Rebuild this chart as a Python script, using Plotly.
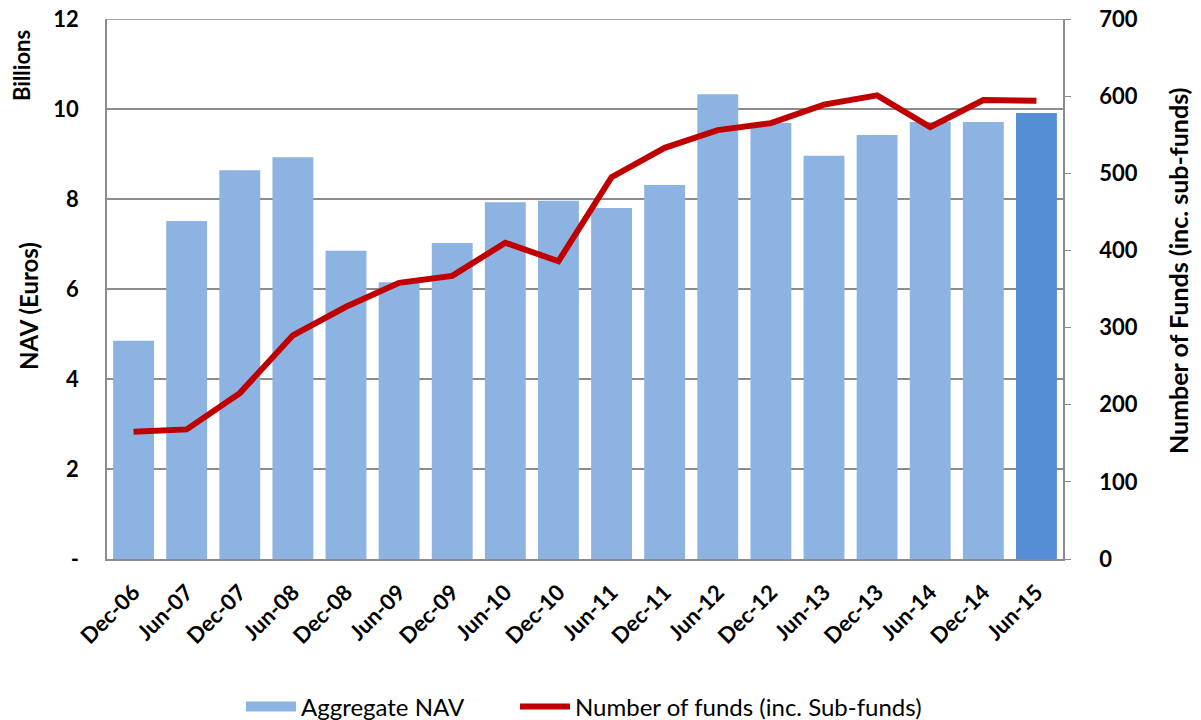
import plotly.graph_objects as go

# Данные
periods = ['Dec-06', 'Jun-07', 'Dec-07', 'Jun-08', 'Dec-08', 'Jun-09', 'Dec-09', 'Jun-10',
           'Dec-10', 'Jun-11', 'Dec-11', 'Jun-12', 'Dec-12', 'Jun-13', 'Dec-13', 'Jun-14',
           'Dec-14', 'Jun-15']
nav_billions = [4.85, 7.51, 8.64, 8.93, 6.85, 6.15, 7.02, 7.93, 7.96, 7.80, 8.31, 10.33,
                9.69, 8.96, 9.42, 9.71, 9.71, 9.91]
num_funds = [165, 168, 215, 290, 327, 358, 367, 410, 386, 495, 533, 556,
             565, 589, 601, 560, 595, 594]

left_ticks = [0, 2, 4, 6, 8, 10, 12]
left_ticktext = ['-', '2', '4', '6', '8', '10', '12']
right_ticks = [0, 100, 200, 300, 400, 500, 600, 700]

FONT = 'Lato'
NAV_COLOR = '#8DB3E2'
GRID = '#8c8c8c'
bar_colors = [NAV_COLOR] * (len(periods) - 1) + ['#558ED5']

W, H = 1201, 720
# Границы области построения (в пикселях страницы, отступ body убираем)
P_LEFT, P_RIGHT, P_TOP, P_BOTTOM = 107, 1063, 19, 559
ML, MR, MT, MB = P_LEFT, W - P_RIGHT, P_TOP, H - P_BOTTOM
plot_w = W - ML - MR
plot_h = H - MT - MB


def px2paper(px, py):
    return (px - ML) / plot_w, 1 - (py - MT) / plot_h


fig = go.Figure()

fig.add_trace(go.Bar(
    x=periods, y=nav_billions,
    name='Aggregate NAV', showlegend=False,
    marker=dict(color=bar_colors, line=dict(width=0)),
    yaxis='y'
))

# Пустой след только для широкого прямоугольника в легенде
fig.add_trace(go.Scatter(
    x=[None], y=[None], mode='lines', name='Aggregate NAV',
    line=dict(color=NAV_COLOR, width=15), yaxis='y', legend='legend'
))

fig.add_trace(go.Scatter(
    x=periods, y=num_funds,
    name='Number of funds (inc. Sub-funds)',
    mode='lines',
    line=dict(color='#C00000', width=6),
    yaxis='y2', legend='legend2'
))

l1x, ly = px2paper(241, 707)
l2x, _ = px2paper(515, 707)
b_x, b_y = px2paper(21, 66)
n_x, n_y = px2paper(28, 306)
r_x, r_y = px2paper(1178, 271)

legend_style = dict(orientation='h', xanchor='left', y=ly, yanchor='middle',
                    font=dict(size=24, family=FONT), itemwidth=50,
                    bgcolor='rgba(0,0,0,0)')

fig.update_layout(
    width=W, height=H,
    margin=dict(l=ML, r=MR, t=MT, b=MB, autoexpand=False),
    paper_bgcolor='white', plot_bgcolor='white',
    font=dict(family=FONT, color='black'),
    bargap=0.23,
    showlegend=True,
    legend=dict(x=l1x, **legend_style),
    legend2=dict(x=l2x, **legend_style),
    xaxis=dict(
        tickangle=-45, tickfont=dict(size=22, family=FONT, weight='bold'),
        showline=True, linecolor=GRID, linewidth=1.5, ticks='',
        showgrid=False, automargin=False, ticklabelstandoff=10
    ),
    yaxis=dict(
        range=[0, 12], tickvals=left_ticks, ticktext=left_ticktext,
        tickfont=dict(size=22, family=FONT, weight='bold'),
        showgrid=True, gridcolor=GRID, gridwidth=1.5,
        showline=True, linecolor=GRID, linewidth=1.5,
        ticks='', ticklabelstandoff=22, zeroline=False, automargin=False,
        ticklabeloverflow='allow'
    ),
    yaxis2=dict(
        range=[0, 700], tickvals=right_ticks, overlaying='y', side='right',
        tickfont=dict(size=22, family=FONT, weight='bold'),
        showgrid=False, showline=True, linecolor=GRID, linewidth=1.5,
        ticks='outside', ticklen=6, tickcolor=GRID, zeroline=False,
        ticklabelstandoff=24, automargin=False, ticklabeloverflow='allow'
    ),
    # верхняя линия сетки (на краю области построения)
    shapes=[dict(type='line', xref='paper', x0=0, x1=1, yref='y', y0=12, y1=12,
                 line=dict(color=GRID, width=1.5), layer='below')],
    annotations=[
        dict(text='Billions', x=b_x, y=b_y, xref='paper', yref='paper', showarrow=False,
             xanchor='center', yanchor='middle',
             textangle=-90, font=dict(size=22, family=FONT, weight='bold')),
        dict(text='NAV (Euros)', x=n_x, y=n_y, xref='paper', yref='paper', showarrow=False,
             xanchor='center', yanchor='middle',
             textangle=-90, font=dict(size=24, family=FONT, weight='bold')),
        dict(text='Number of Funds (inc. sub-funds)', x=r_x, y=r_y, xref='paper',
             yref='paper', showarrow=False, textangle=-90,
             xanchor='center', yanchor='middle',
             font=dict(size=25, family=FONT, weight='bold')),
    ]
)

fig.write_html('out.html', config={'displayModeBar': False},
               post_script="document.body.style.margin='0';")
